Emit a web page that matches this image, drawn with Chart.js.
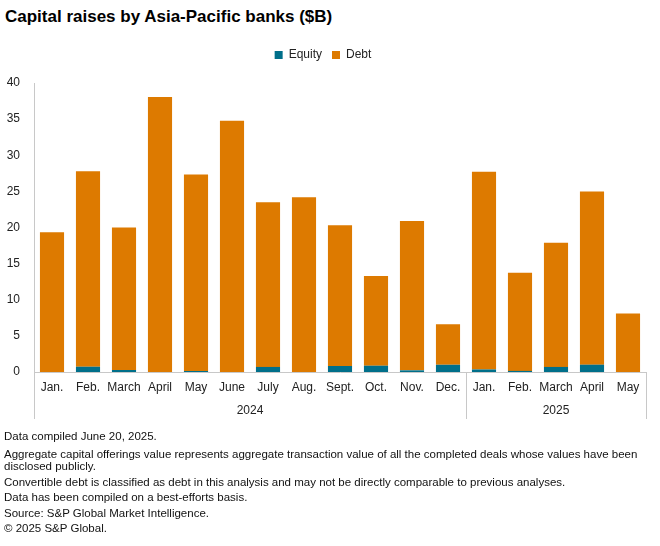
<!DOCTYPE html>
<html>
<head>
<meta charset="utf-8">
<script src="https://cdn.jsdelivr.net/npm/chart.js@4.4.1/dist/chart.umd.min.js"></script>
<style>
  body { margin: 0; width: 660px; height: 546px; background: #fff; font-family: "Liberation Sans", Arial, sans-serif; color: #000; overflow: hidden; }
  #title { position: absolute; left: 5px; top: 7px; font-size: 17px; font-weight: bold; }
  #wrap { position: absolute; left: 0; top: 39px; width: 660px; height: 392px; }
  #notes { position: absolute; left: 4px; top: 430px; font-size: 11.5px; line-height: 12.5px; color: #111; width: 650px; }
  #notes div { margin-bottom: 3px; }
  #notes div:first-child { margin-bottom: 5px; }
</style>
</head>
<body>
<div id="title">Capital raises by Asia-Pacific banks ($B)</div>
<div id="wrap"><canvas id="chart"></canvas></div>
<div id="notes">
  <div>Data compiled June 20, 2025.</div>
  <div>Aggregate capital offerings value represents aggregate transaction value of all the completed deals whose values have been disclosed publicly.</div>
  <div>Convertible debt is classified as debt in this analysis and may not be directly comparable to previous analyses.</div>
  <div>Data has been compiled on a best-efforts basis.</div>
  <div>Source: S&amp;P Global Market Intelligence.</div>
  <div>&copy; 2025 S&amp;P Global.</div>
</div>
<script>
// months and the year each belongs to
const months = ['Jan.', 'Feb.', 'March', 'April', 'May', 'June', 'July', 'Aug.', 'Sept.', 'Oct.', 'Nov.', 'Dec.',
                'Jan.', 'Feb.', 'March', 'April', 'May']
const years = ['2024', '2025']
const yearSpans = [12, 5]

// values in $B
const equity = [0, 0.73, 0.28, 0, 0.14, 0, 0.7, 0, 0.83, 0.87, 0.23, 1.0, 0.35, 0.15, 0.7, 1.01, 0]
const debt = [19.35, 27.07, 19.72, 38.07, 27.21, 34.76, 22.8, 24.2, 19.47, 12.43, 20.67, 5.6, 27.35, 13.6, 17.2, 23.96, 8.1]

const yTicks = [0, 5, 10, 15, 20, 25, 30, 35, 40]

// extra room under the legend
const legendGap = {
  id: 'legendGap',
  beforeInit(chart) {
    const fit = chart.legend.fit
    chart.legend.fit = function () {
      fit.bind(chart.legend)()
      this.height += 12
    }
  }
}

// draws the year row under the month labels plus the group dividers
const yearGroups = {
  id: 'yearGroups',
  afterDraw(chart) {
    const ctx = chart.ctx
    const x = chart.scales.x
    const top = x.top
    const half = (x.getPixelForValue(1) - x.getPixelForValue(0)) / 2
    ctx.save()
    ctx.strokeStyle = '#c8c8c8'
    ctx.lineWidth = 1
    ctx.fillStyle = '#222'
    ctx.font = '12px "Liberation Sans", Arial, sans-serif'
    ctx.textAlign = 'center'
    ctx.textBaseline = 'middle'
    let start = 0
    const edges = [x.getPixelForValue(0) - half]
    years.forEach((yr, i) => {
      const end = start + yearSpans[i] - 1
      const left = x.getPixelForValue(start) - half
      const right = x.getPixelForValue(end) + half
      edges.push(right)
      ctx.fillText(yr, (left + right) / 2, top + 39)
      start = end + 1
    })
    edges.forEach(e => {
      const px = Math.round(e) + 0.5
      ctx.beginPath()
      ctx.moveTo(px, top)
      ctx.lineTo(px, top + 47)
      ctx.stroke()
    })
    ctx.restore()
  }
}

new Chart(document.getElementById('chart'), {
  type: 'bar',
  plugins: [legendGap, yearGroups],
  data: {
    labels: months,
    datasets: [
      { label: 'Equity', data: equity, backgroundColor: '#006f8a', barPercentage: 0.67, categoryPercentage: 1 },
      { label: 'Debt', data: debt, backgroundColor: '#dd7a00', barPercentage: 0.67, categoryPercentage: 1 }
    ]
  },
  options: {
    responsive: true,
    maintainAspectRatio: false,
    animation: false,
    layout: { padding: { left: 0, right: 14, top: 0, bottom: 0 } },
    plugins: {
      legend: {
        display: true,
        position: 'top',
        labels: {
          boxWidth: 8, boxHeight: 8, padding: 10,
          color: '#222',
          font: { size: 12, family: '"Liberation Sans", Arial, sans-serif' }
        }
      },
      tooltip: { enabled: false },
      title: { display: false }
    },
    scales: {
      x: {
        stacked: true,
        grid: { display: false, drawTicks: false },
        border: { display: true, color: '#c8c8c8' },
        ticks: {
          color: '#222', padding: 8, maxRotation: 0, autoSkip: false,
          font: { size: 12, family: '"Liberation Sans", Arial, sans-serif' }
        },
        afterFit(scale) { scale.height = 59 }
      },
      y: {
        stacked: true,
        min: 0, max: 40,
        afterBuildTicks(scale) { scale.ticks = yTicks.map(v => ({ value: v })) },
        grid: { display: false, drawTicks: false },
        border: { display: true, color: '#c8c8c8' },
        ticks: {
          color: '#222', padding: 14,
          font: { size: 12, family: '"Liberation Sans", Arial, sans-serif' }
        },
        afterFit(scale) { scale.width = 34 }
      }
    }
  }
})
</script>
</body>
</html>
